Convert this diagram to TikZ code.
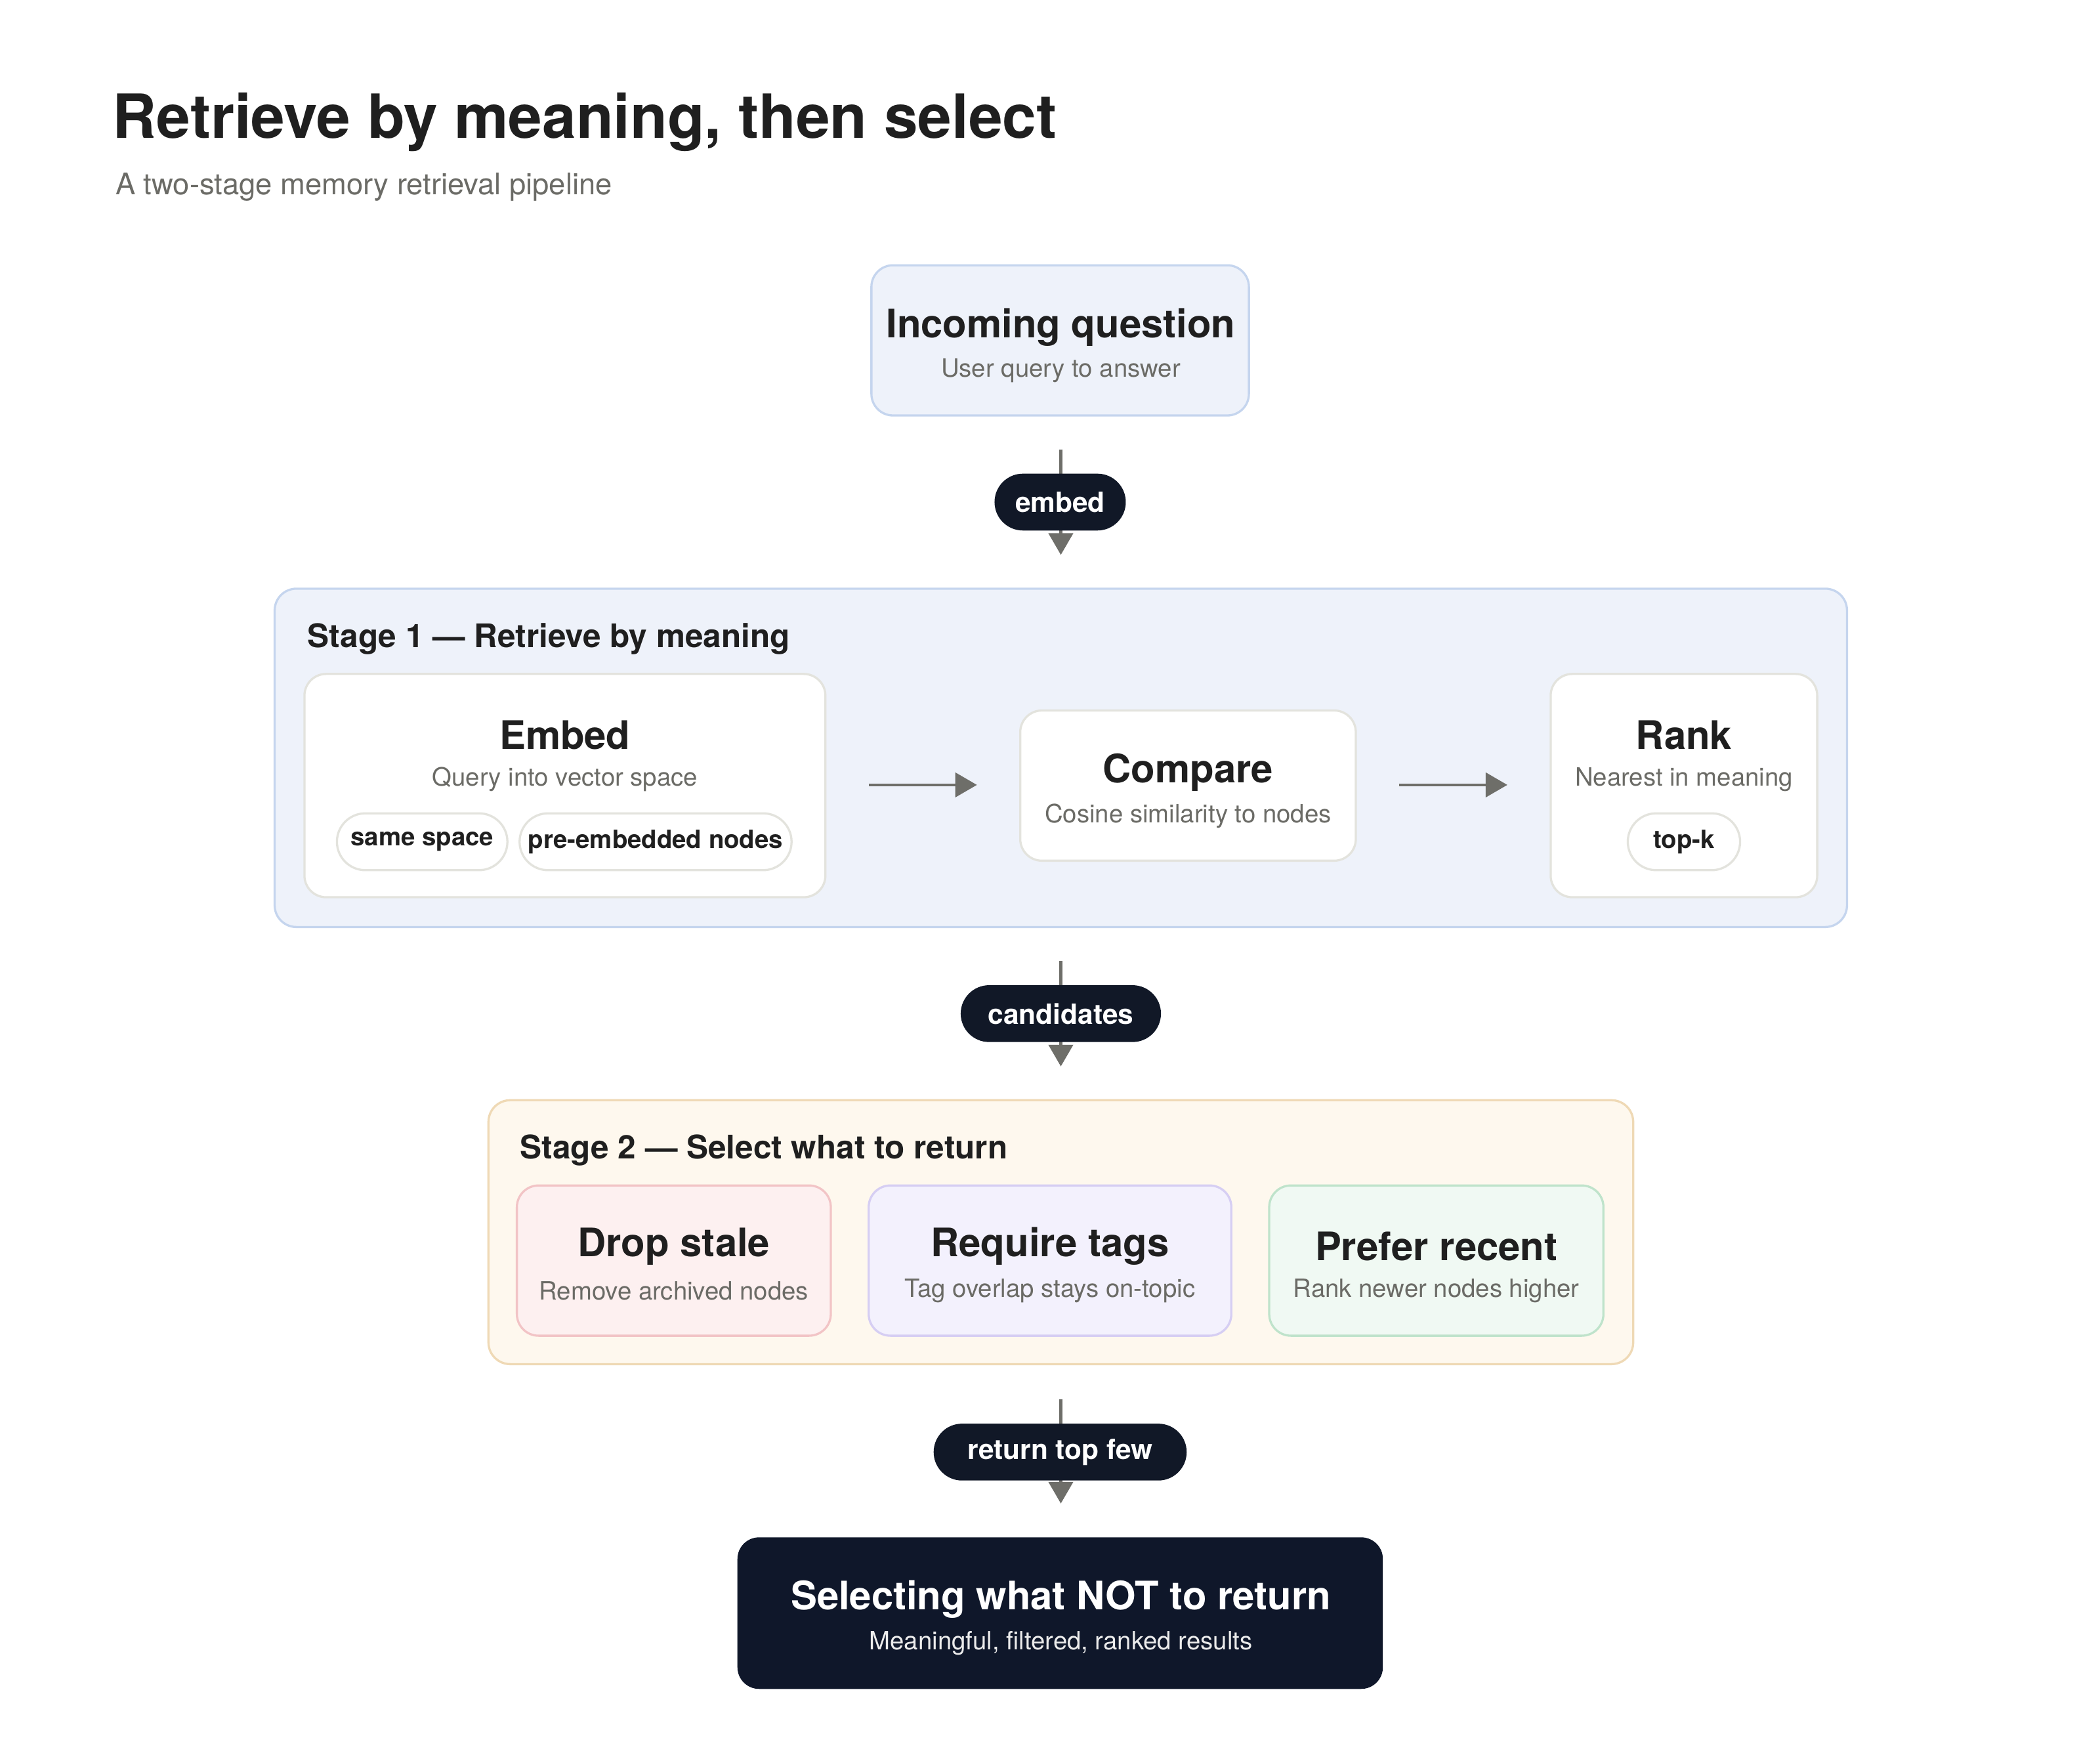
\documentclass[tikz,border=0pt]{standalone}
\usepackage{fontspec}
\setmainfont{TeX Gyre Heros}
\usetikzlibrary{arrows.meta}
\definecolor{ink}{HTML}{1F1F1F}
\definecolor{mute}{HTML}{6B6B66}
\definecolor{navy}{HTML}{111827}
\definecolor{fnavy}{HTML}{0F172A}
\definecolor{bluef}{HTML}{EEF2FA}
\definecolor{blued}{HTML}{C5D5EE}
\definecolor{cardd}{HTML}{E3E3DD}
\definecolor{orf}{HTML}{FEF8EE}
\definecolor{ord}{HTML}{EFD9B5}
\definecolor{redf}{HTML}{FDF0F0}
\definecolor{redd}{HTML}{F2C4C6}
\definecolor{purf}{HTML}{F3F1FD}
\definecolor{purd}{HTML}{D6CEF3}
\definecolor{grnf}{HTML}{F0F9F3}
\definecolor{grnd}{HTML}{BFE3CB}
\definecolor{arr}{HTML}{6E6E69}
\tikzset{
 box/.style={rounded corners=8pt, line width=0.8pt, inner sep=0pt},
 card/.style={box, fill=white, draw=cardd},
 ttl/.style={font=\fontsize{14.5}{16}\selectfont\bfseries, text=ink, inner sep=0pt},
 sub/.style={font=\fontsize{9.3}{11}\selectfont, text=mute, inner sep=0pt},
 stg/.style={font=\fontsize{12}{14}\selectfont\bfseries, text=ink, inner sep=0pt, anchor=west},
 chip/.style={rounded corners=10.5pt, draw=cardd, line width=0.8pt, fill=white, minimum height=21pt, inner sep=0pt, font=\fontsize{9.3}{11}\selectfont\bfseries, text=ink},
 pill/.style={rounded corners=10.5pt, fill=navy, minimum height=21pt, inner sep=0pt, font=\fontsize{10.3}{12}\selectfont\bfseries, text=white},
 conn/.style={draw=arr, line width=1pt, -{Triangle[length=8pt,width=9pt]}},
}
\begin{document}
\begin{tikzpicture}[x=0.5pt,y=-0.5pt]
\path[use as bounding box, fill=white] (0,0) rectangle (1552,1298);
\node[font=\fontsize{22.5}{26}\selectfont\bfseries, text=ink, anchor=base west, inner sep=0pt] (title) at (83,102) {Retrieve by meaning, then select};
\node[font=\fontsize{11}{13}\selectfont, text=mute, anchor=base west, inner sep=0pt] (subtitle) at (85,144) {A two-stage memory retrieval pipeline};
% incoming
\node[box, fill=bluef, draw=blued, minimum width=139.5pt, minimum height=55.5pt] (q) at (783.5,251.5) {};
\node[ttl] (qt) at (784,242) {Incoming question};
\node[sub] (qs) at (784,274) {User query to answer};
% stage 1
\node[box, fill=bluef, draw=blued, minimum width=581pt, minimum height=125pt] (s1) at (784,560) {};
\node[stg] (s1l) at (227,472) {Stage 1 — Retrieve by meaning};
\node[card, minimum width=192.5pt, minimum height=82.5pt] (emb) at (417.5,580.5) {};
\node[ttl] (embt) at (417.5,543) {Embed};
\node[sub] (embs) at (417.5,576) {Query into vector space};
\node[chip, minimum width=63pt] (c1) at (312,622) {same space};
\node[chip, minimum width=100.5pt] (c2) at (484.5,622) {pre-embedded nodes};
\node[card, minimum width=124pt, minimum height=55.5pt] (cmp) at (878,580.5) {};
\node[ttl] (cmpt) at (878,571) {Compare};
\node[sub] (cmps) at (878,603) {Cosine similarity to nodes};
\node[card, minimum width=98.5pt, minimum height=82.5pt] (rk) at (1244.5,580.5) {};
\node[ttl] (rkt) at (1244.5,543) {Rank};
\node[sub] (rks) at (1244.5,576) {Nearest in meaning};
\node[chip, minimum width=41.5pt] (c3) at (1244.5,622) {top-k};
\coordinate (e1) at (642,580); \coordinate (e2) at (722,580);
\coordinate (f1) at (1034,580); \coordinate (f2) at (1114,580);
\draw[conn] (e1) -- (e2);
\draw[conn] (f1) -- (f2);
% stage 2
\node[box, fill=orf, draw=ord, minimum width=423pt, minimum height=97.5pt] (s2) at (784,910.5) {};
\node[stg] (s2l) at (384,850) {Stage 2 — Select what to return};
\node[box, fill=redf, draw=redd, minimum width=116pt, minimum height=55.5pt] (d) at (498,931.5) {};
\node[ttl] (dt) at (498,921) {Drop stale};
\node[sub] (ds) at (498,954) {Remove archived nodes};
\node[box, fill=purf, draw=purd, minimum width=134pt, minimum height=55.5pt] (r) at (776,931.5) {};
\node[ttl] (rt) at (776,921) {Require tags};
\node[sub] (rs) at (776,954) {Tag overlap stays on-topic};
\node[box, fill=grnf, draw=grnd, minimum width=123.5pt, minimum height=55.5pt] (p) at (1061.5,931.5) {};
\node[ttl] (pt) at (1061.5,921) {Prefer recent};
\node[sub] (ps) at (1061.5,954) {Rank newer nodes higher};
% final
\node[box, fill=fnavy, minimum width=238.5pt, minimum height=56pt] (fin) at (783.5,1192) {};
\node[ttl, text=white] (fint) at (784,1182) {Selecting what NOT to return};
\node[sub, text=white!85!gray] (fins) at (784,1214) {Meaningful, filtered, ranked results};
% connectors
\coordinate (a1) at (784,332); \coordinate (a2) at (784,410);
\coordinate (b1) at (784,710); \coordinate (b2) at (784,788);
\coordinate (g1) at (784,1034); \coordinate (g2) at (784,1111);
\draw[conn] (a1) -- (a2);
\draw[conn] (b1) -- (b2);
\draw[conn] (g1) -- (g2);
\node[pill, minimum width=48.5pt] (pe) at (783.5,371) {embed};
\node[pill, minimum width=74pt] (pc) at (784,749) {candidates};
\node[pill, minimum width=93.5pt] (pr) at (783.5,1073) {return top few};
\end{tikzpicture}
\end{document}
